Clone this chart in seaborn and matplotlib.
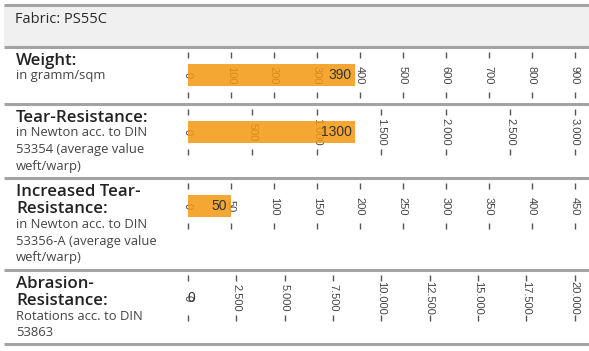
import numpy as np
import matplotlib.pyplot as plt
import seaborn as sns

# data
fabric = "Fabric: PS55C"
titles = ["Weight:", "Tear-Resistance:", "Increased Tear-\nResistance:", "Abrasion-\nResistance:"]
subtitles = [
    "in gramm/sqm",
    "in Newton acc. to DIN\n53354 (average value\nweft/warp)",
    "in Newton acc. to DIN\n53356-A (average value\nweft/warp)",
    "Rotations acc. to DIN\n53863",
]
values = [390, 1300, 50, 0]
axis_max = [900, 3000, 450, 20000]
tick_step = [100, 500, 50, 2500]

W, H = 589, 351
row_tops = [47, 104, 178, 270, 344]

# semi-transparent bar so the tick labels show through like in the original
bar_color = "#f3990f"
line_color = "#a3a3a3"
text_font = ["Open Sans", "DejaVu Sans"]
num_font = ["Liberation Sans Narrow", "Liberation Sans", "DejaVu Sans"]

fig = plt.figure(figsize=(W / 100, H / 100), dpi=100)

# background layer in pixel coordinates (table frame + text)
bg = fig.add_axes([0, 0, 1, 1])
bg.set_xlim(0, W)
bg.set_ylim(H, 0)
bg.axis("off")

bg.add_patch(plt.Rectangle((4, 5), W - 4, 42, facecolor="#f0f0f0", edgecolor="none"))
bg.plot([4, W], [5, 5], color=line_color, lw=2.2, solid_capstyle="butt")
for y in row_tops:
    bg.plot([4, W], [y, y], color=line_color, lw=2.2, solid_capstyle="butt")
bg.text(15, 23, fabric, fontsize=10.5, color="#2a2a2a", family=text_font,
        fontweight="medium", va="baseline")

for i, (title, sub) in enumerate(zip(titles, subtitles)):
    y = row_tops[i] + 18
    for line in title.split("\n"):
        bg.text(16, y, line, fontsize=12.2, color="#222222", family=text_font,
                fontweight="semibold", va="baseline")
        y += 17.3
    y += 14.5 - 17.3
    for line in sub.split("\n"):
        bg.text(16, y, line, fontsize=9.4, color="#444444", family=text_font,
                va="baseline")
        y += 16.7

# gauges
x0, x1 = 188, 574.5
for i in range(4):
    top = row_tops[i] + 11
    ax = fig.add_axes([x0 / W, 1 - (top + 34) / H, (x1 - x0) / W, 34 / H])
    ax.patch.set_visible(False)
    sns.barplot(x=[values[i]], y=[titles[i]], orient="h", ax=ax,
                color=bar_color, width=22 / 34, alpha=0.85, zorder=3,
                saturation=1)
    ax.set_xlim(0, axis_max[i])
    ax.set_ylim(0.5, -0.5)
    ticks = np.arange(0, axis_max[i] + tick_step[i], tick_step[i])
    ax.set_xticks(ticks)
    ax.tick_params(axis="x", top=True, bottom=True, labelbottom=False,
                   labeltop=False, length=4.5, width=1, color="#555555",
                   direction="out")
    ax.set_yticks([])
    ax.set_xlabel("")
    ax.set_ylabel("")
    for s in ax.spines.values():
        s.set_visible(False)
    for t in ticks:
        ax.text(t, 0, f"{t:,}".replace(",", "."), rotation=270, ha="center",
                va="center", fontsize=8, color="#444444", family=num_font,
                zorder=2)
    v = values[i]
    if v > 0:
        ax.annotate(str(v), xy=(v, 0), xytext=(-2.9, 0), textcoords="offset points",
                    ha="right", va="center", fontsize=10, color="#333333",
                    family=num_font, zorder=4)
    else:
        ax.annotate(str(v), xy=(v, 0), xytext=(-0.7, 0), textcoords="offset points",
                    ha="left", va="center", fontsize=10, color="#333333",
                    family=num_font, zorder=4)

fig.savefig("out.png", dpi=100)
